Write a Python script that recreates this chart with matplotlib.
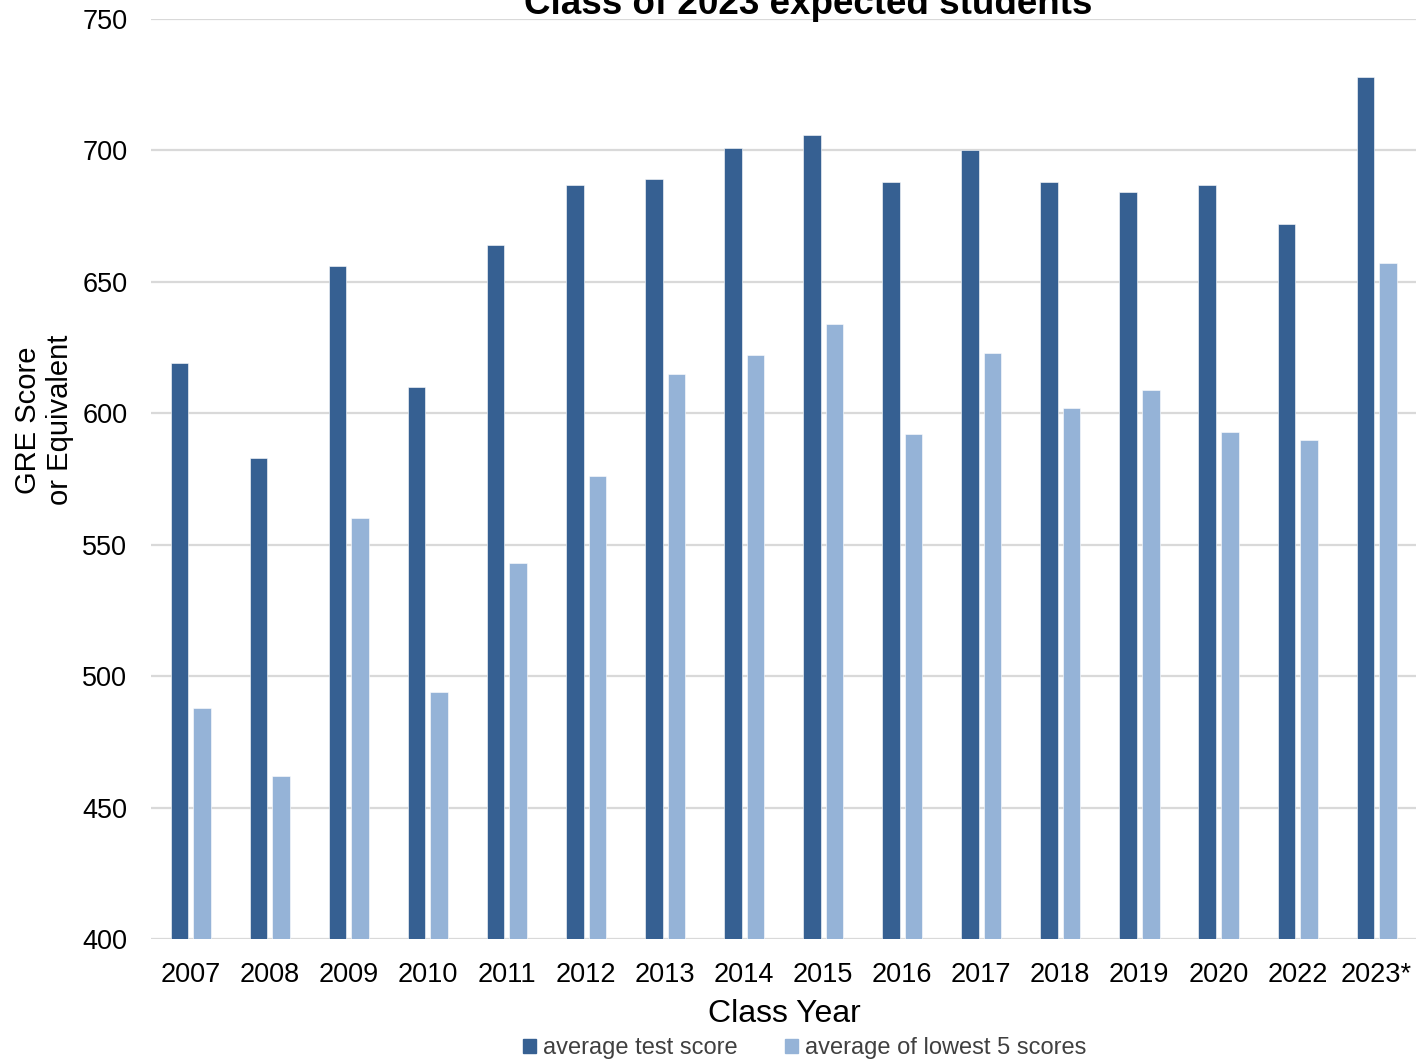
import matplotlib
matplotlib.use("Agg")
import matplotlib.pyplot as plt
import numpy as np
from matplotlib.patches import Patch

years = ["2007", "2008", "2009", "2010", "2011", "2012", "2013", "2014",
         "2015", "2016", "2017", "2018", "2019", "2020", "2022", "2023*"]
avg_score = [619, 583, 656, 610, 664, 687, 689, 701, 706, 688, 700, 688, 684, 687, 672, 728]
lowest5 = [488, 462, 560, 494, 543, 576, 615, 622, 634, 592, 623, 602, 609, 593, 590, 657]
yticks = [400, 450, 500, 550, 600, 650, 700, 750]

plt.rcParams['font.family'] = ['Liberation Sans', 'DejaVu Sans']

W, H = 1416, 1062
fig = plt.figure(figsize=(W / 100, H / 100), dpi=100)
ax = fig.add_axes([151 / W, 1 - 939 / H, (1416 - 151) / W, (939 - 19) / H])

dark = "#366092"
light = "#95B3D7"
x = np.arange(len(years))
bw = 0.222
ax.bar(x - 0.14, avg_score, width=bw, color=dark, edgecolor="white", linewidth=0.4, zorder=3)
ax.bar(x + 0.145, lowest5, width=bw, color=light, edgecolor="white", linewidth=0.4, zorder=3)

ax.set_xlim(-0.5, len(years) - 0.5)
ax.set_ylim(400, 750)
ax.set_yticks(yticks)
ax.set_yticklabels([str(v) for v in yticks], fontsize=19.5)
ax.set_xticks(x)
ax.set_xticklabels(years, fontsize=19.5)
ax.tick_params(axis='both', length=0)
ax.tick_params(axis='y', pad=17)
ax.tick_params(axis='x', pad=16.5)
for s in ax.spines.values():
    s.set_visible(False)
ax.yaxis.grid(True, color="#D9D9D9", linewidth=1.6, zorder=0)
ax.set_axisbelow(True)

fig.text(808 / W, 1 - 14 / H, "Class of 2023 expected students", fontsize=26.5,
         fontweight='bold', ha='center', va='baseline')
fig.text(44 / W, 1 - 420 / H, "GRE Score\nor Equivalent", fontsize=21, rotation=90,
         ha='center', va='center', linespacing=1.15)
fig.text(784 / W, 1 - 1014 / H, "Class Year", fontsize=23, ha='center', va='center')

handles = [Patch(color=dark, label="average test score"),
           Patch(color=light, label="average of lowest 5 scores")]
fig.legend(handles=handles, loc='center', bbox_to_anchor=(805 / W, 1 - 1048 / H),
           ncol=2, frameon=False, fontsize=17, handlelength=0.55, handleheight=0.55,
           handletextpad=0.3, columnspacing=2.0, labelcolor="#404040")

fig.savefig("out.png", dpi=100)
